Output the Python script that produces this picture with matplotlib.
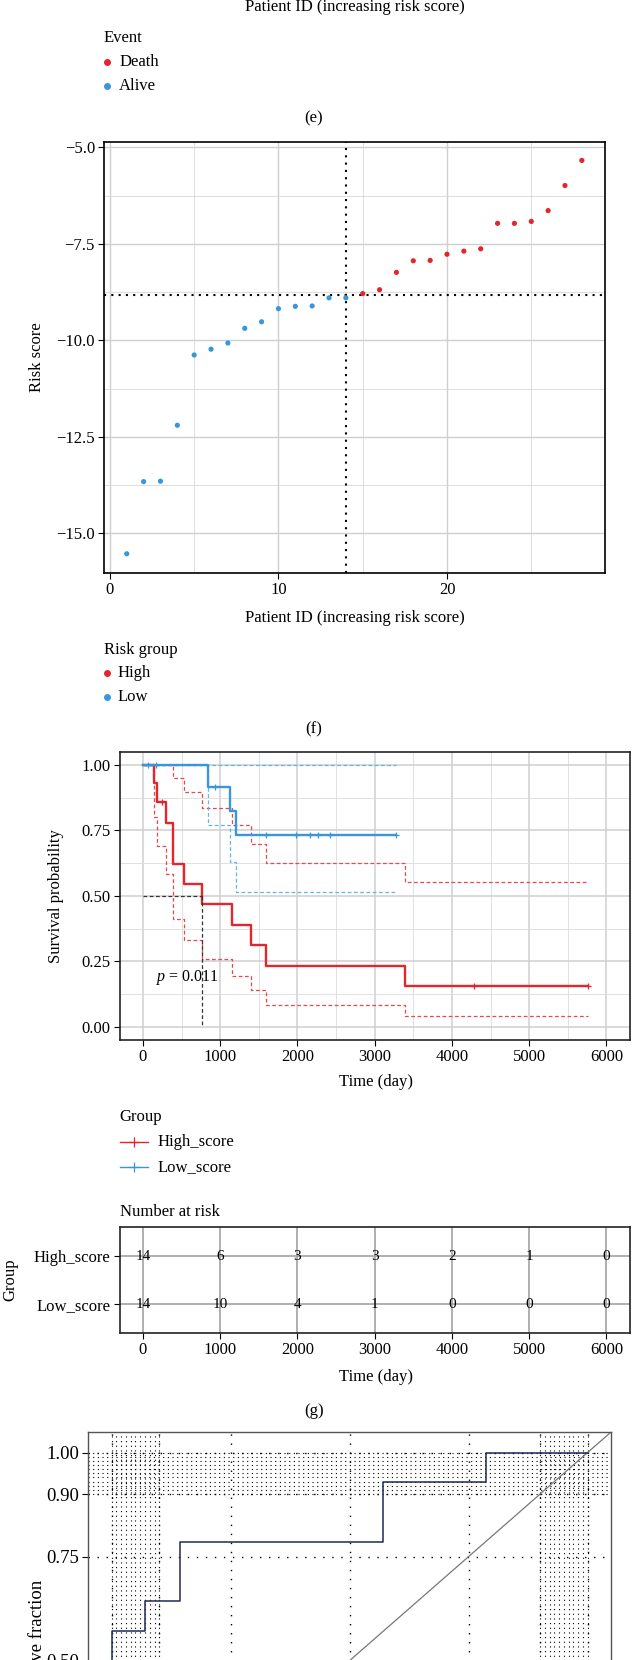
import matplotlib
matplotlib.use("Agg")
import matplotlib.pyplot as plt
from matplotlib.lines import Line2D
from matplotlib.ticker import FuncFormatter, FixedLocator

W, H = 632, 1660

plt.rcParams["font.family"] = ["Liberation Serif", "DejaVu Serif"]
plt.rcParams["font.size"] = 12
plt.rcParams["mathtext.fontset"] = "custom"
plt.rcParams["mathtext.it"] = "Liberation Serif:italic"
plt.rcParams["mathtext.rm"] = "Liberation Serif"

red = "#e3262b"
blue = "#3996dd"
red_ci = "#e8474d"
blue_ci = "#62b5e3"

# (f) risk score per patient
patient_id = list(range(1, 29))
risk_score = [-15.53, -13.66, -13.65, -12.20, -10.38, -10.23, -10.07, -9.69,
              -9.52, -9.18, -9.12, -9.11, -8.90, -8.90, -8.79, -8.69,
              -8.24, -7.94, -7.93, -7.77, -7.69, -7.63, -6.97, -6.97,
              -6.92, -6.64, -5.99, -5.34]
risk_group = ["Low"] * 14 + ["High"] * 14
cutoff_id = 14
cutoff_score = -8.82

# (g) Kaplan-Meier
high_time = [0, 146, 182, 302, 391, 536, 760, 1156, 1401, 1599, 3395, 5765]
high_surv = [1.0, 0.929, 0.857, 0.779, 0.623, 0.545, 0.467, 0.389, 0.311, 0.233, 0.156, 0.156]
high_upper = [1.0, 1.0, 1.0, 1.0, 0.95, 0.896, 0.835, 0.771, 0.699, 0.625, 0.553, 0.553]
high_lower = [1.0, 0.80, 0.69, 0.585, 0.41, 0.33, 0.26, 0.196, 0.14, 0.083, 0.041, 0.041]
high_cens_time = [250, 4281, 5765]
high_cens_surv = [0.857, 0.156, 0.156]

low_time = [0, 849, 1125, 1208, 3281]
low_surv = [1.0, 0.917, 0.825, 0.733, 0.733]
low_upper = [1.0, 1.0, 1.0, 1.0, 1.0]
low_lower = [1.0, 0.772, 0.629, 0.513, 0.513]
low_cens_time = [68, 167, 937, 1593, 1979, 2161, 2270, 2416, 3281]
low_cens_surv = [1.0, 1.0, 0.917, 0.733, 0.733, 0.733, 0.733, 0.733, 0.733]

median_time = 760
p_text = "$\\mathit{p}$ = 0.011"

risk_times = [0, 1000, 2000, 3000, 4000, 5000, 6000]
high_at_risk = [14, 6, 3, 3, 2, 1, 0]
low_at_risk = [14, 10, 4, 1, 0, 0, 0]

# (h) ROC
roc_fpr = [0, 0, 0.071, 0.071, 0.143, 0.143, 0.571, 0.571, 0.786, 0.786, 1.0]
roc_tpr = [0, 0.571, 0.571, 0.643, 0.643, 0.786, 0.786, 0.929, 0.929, 1.0, 1.0]
roc_major = [0, 0.1, 0.25, 0.5, 0.75, 0.9, 1.0]
roc_minor = [i / 100 for i in range(0, 11)] + [0.9 + i / 100 for i in range(0, 11)]
roc_shown_ticks = [0.5, 0.75, 0.9, 1.0]   # the rest fall below the page

fig = plt.figure(figsize=(W / 100, H / 100), dpi=100)


def add_ax(l, t, r, b):
    return fig.add_axes([l / W, 1 - b / H, (r - l) / W, (b - t) / H])


def ftext(x, y, s, **kw):
    kw.setdefault("va", "center")
    fig.text(x / W, 1 - y / H, s, **kw)


def fmark(x, y, **kw):
    fig.add_artist(Line2D([x / W], [1 - y / H], transform=fig.transFigure,
                          linestyle="none", **kw))


def fline(x0, x1, y, **kw):
    fig.add_artist(Line2D([x0 / W, x1 / W], [1 - y / H, 1 - y / H],
                          transform=fig.transFigure, **kw))


def xlabel_at(ax, s, x, y, **kw):
    ax.set_xlabel(s, va="center", **kw)
    ax.xaxis.set_label_coords(x / W, 1 - y / H, transform=fig.transFigure)


def ylabel_at(ax, s, x, y, **kw):
    ax.set_ylabel(s, va="center", **kw)
    ax.yaxis.set_label_coords(x / W, 1 - y / H, transform=fig.transFigure)


def minus(v, fmt):
    return (fmt % v).replace("-", "\u2212")


def style_ticks(ax, size=None):
    kw = dict(direction="out", length=4, width=0.8, pad=2.5)
    if size:
        kw["labelsize"] = size
    ax.tick_params(which="major", **kw)
    ax.tick_params(which="minor", length=0)


# ---- tail of panel (e) ----
ftext(354.7, 6.7, "Patient ID (increasing risk score)", ha="center")
ftext(103.6, 38.3, "Event", ha="left")
fmark(106.8, 61.7, marker="o", ms=4, color=red)
ftext(119.3, 61.7, "Death", ha="left")
fmark(106.8, 85.7, marker="o", ms=4, color=blue)
ftext(119.3, 85.7, "Alive", ha="left")
ftext(313.6, 118.3, "(e)", ha="center")

# ---- panel (f) ----
ax = add_ax(104, 141.7, 604.6, 572.7)
cols = [red if g == "High" else blue for g in risk_group]
ax.scatter(patient_id, risk_score, c=cols, s=14, zorder=3, linewidths=0)
ax.axvline(cutoff_id, color="black", lw=1.5, ls=(0, (1, 2.5)), zorder=2)
ax.axhline(cutoff_score, color="black", lw=1.5, ls=(0, (1, 2.5)), zorder=2)
ax.set_xlim(-0.35, 29.35)
ax.set_ylim(-16.02, -4.855)
ax.set_xticks([0, 10, 20])
ax.set_yticks([-5, -7.5, -10, -12.5, -15])
ax.xaxis.set_minor_locator(FixedLocator([5, 15, 25]))
ax.yaxis.set_minor_locator(FixedLocator([-6.25, -8.75, -11.25, -13.75]))
ax.yaxis.set_major_formatter(FuncFormatter(lambda v, p: minus(v, "%.1f")))
ax.grid(which="major", color="#cfcfcf", lw=1.0)
ax.grid(which="minor", color="#d8d8d8", lw=0.6)
ax.set_axisbelow(True)
style_ticks(ax)
for s in ax.spines.values():
    s.set_linewidth(1.2)
xlabel_at(ax, "Patient ID (increasing risk score)", 354.7, 618.3)
ylabel_at(ax, "Risk score", 37, 357)

ftext(104, 650, "Risk group", ha="left")
fmark(106.8, 673.3, marker="o", ms=4, color=red)
ftext(118, 673.3, "High", ha="left")
fmark(106.8, 696.7, marker="o", ms=4, color=blue)
ftext(118, 696.7, "Low", ha="left")
ftext(313.6, 729.3, "(f)", ha="center")

# ---- panel (g) KM ----
dash = (0, (3, 2))
ax = add_ax(119.7, 751.7, 629.6, 1040)
ax.step(high_time, high_upper, where="post", color=red_ci, lw=0.9, ls=dash)
ax.step(high_time, high_lower, where="post", color=red_ci, lw=0.9, ls=dash)
ax.step(low_time, low_upper, where="post", color=blue_ci, lw=0.9, ls=dash)
ax.step(low_time, low_lower, where="post", color=blue_ci, lw=0.9, ls=dash)
ax.step(high_time, high_surv, where="post", color=red, lw=1.7)
ax.step(low_time, low_surv, where="post", color=blue, lw=1.7)
ax.plot(high_cens_time, high_cens_surv, "+", color=red, ms=5, mew=0.9)
ax.plot(low_cens_time, low_cens_surv, "+", color=blue, ms=5, mew=0.9)
ax.plot([0, median_time], [0.5, 0.5], color="#333333", lw=0.9, ls=dash)
ax.plot([median_time, median_time], [0.5, 0], color="#333333", lw=0.9, ls=dash)
ax.text(172, 0.19, p_text, ha="left", va="center", fontsize=11.5)
ax.set_xlim(-300, 6300)
ax.set_ylim(-0.05, 1.05)
ax.set_xticks(risk_times)
ax.set_yticks([0, 0.25, 0.5, 0.75, 1.0])
ax.xaxis.set_minor_locator(FixedLocator([500, 1500, 2500, 3500, 4500, 5500]))
ax.yaxis.set_minor_locator(FixedLocator([0.125, 0.375, 0.625, 0.875]))
ax.yaxis.set_major_formatter(FuncFormatter(lambda v, p: "%.2f" % v))
ax.grid(which="major", color="#d0d0d0", lw=1.1)
ax.grid(which="minor", color="#dcdcdc", lw=0.6)
ax.set_axisbelow(True)
style_ticks(ax)
for s in ax.spines.values():
    s.set_linewidth(1.2)
    s.set_color("#222222")
xlabel_at(ax, "Time (day)", 376, 1081.7)
ylabel_at(ax, "Survival probability", 56.4, 896)

ftext(119.7, 1116.7, "Group", ha="left")
for yy, c, lab in [(1141.7, red, "High_score"), (1166.7, blue, "Low_score")]:
    fline(119.7, 147.9, yy, color=c, lw=1.0)
    fmark(133.8, yy, marker="+", ms=7, mew=0.9, color=c)
    ftext(157.2, yy, lab, ha="left")

ftext(119.7, 1211.7, "Number at risk", ha="left")

# ---- risk table ----
ax = add_ax(119.7, 1227.3, 629.6, 1333.3)
for t, n in zip(risk_times, high_at_risk):
    ax.text(t, 2, str(n), ha="center", va="center", fontsize=11)
for t, n in zip(risk_times, low_at_risk):
    ax.text(t, 1, str(n), ha="center", va="center", fontsize=11)
ax.set_xlim(-300, 6300)
ax.set_ylim(0.4, 2.6)
ax.set_xticks(risk_times)
ax.set_yticks([1, 2])
ax.set_yticklabels(["Low_score", "High_score"])
ax.grid(which="major", color="#9a9a9a", lw=1.1)
ax.set_axisbelow(True)
style_ticks(ax)
for s in ax.spines.values():
    s.set_linewidth(1.2)
    s.set_color("#222222")
xlabel_at(ax, "Time (day)", 376, 1376.7)
ylabel_at(ax, "Group", 10, 1280)

ftext(313.6, 1411, "(g)", ha="center")

# ---- panel (h) ROC, cut at the bottom of the page ----
ax = add_ax(87.9, 1431.7, 611.4, 1889.5)
for v in roc_minor:
    ax.axvline(v, color="black", lw=0.8, ls=(0, (1, 3.2)), zorder=1)
    ax.axhline(v, color="black", lw=0.8, ls=(0, (1, 3.2)), zorder=1)
for v in roc_major:
    ax.axvline(v, color="black", lw=1.0, ls=(0, (1, 5.5)), zorder=1)
    ax.axhline(v, color="black", lw=1.0, ls=(0, (1, 5.5)), zorder=1)
ax.axline((0, 0), slope=1, color="#777777", lw=0.9, zorder=2)
ax.plot(roc_fpr, roc_tpr, color="#1f2a55", lw=1.1, zorder=3)
ax.set_xlim(-0.05, 1.05)
ax.set_ylim(-0.05, 1.05)
ax.set_xticks([])
ax.set_yticks(roc_shown_ticks)
ax.yaxis.set_major_formatter(FuncFormatter(lambda v, p: "%.2f" % v))
style_ticks(ax, 13.5)
for s in ax.spines.values():
    s.set_linewidth(1.0)
    s.set_color("#555555")
ylabel_at(ax, "True positive fraction", 37, 1660.6, fontsize=13.5)

fig.savefig("out.png", dpi=100)
